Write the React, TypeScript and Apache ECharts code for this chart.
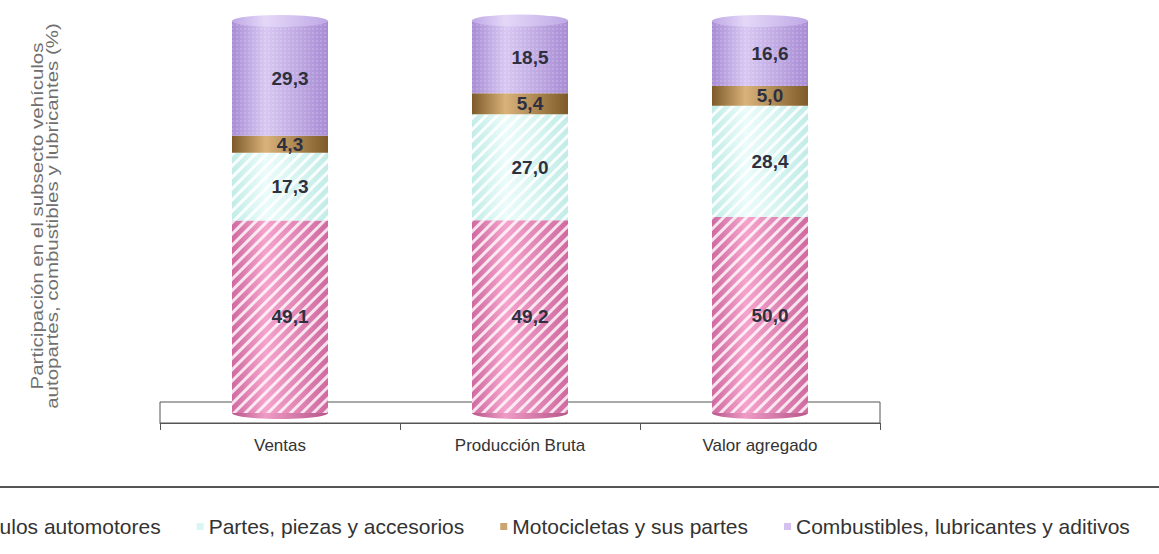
import React, { useEffect, useRef } from "react";
import * as echarts from "echarts";

const categories = ["Ventas", "Producción Bruta", "Valor agregado"];
const seriesNames = [
  "Vehículos automotores",
  "Partes, piezas y accesorios",
  "Motocicletas y sus partes",
  "Combustibles, lubricantes y aditivos",
];
const vehiculos = [49.1, 49.2, 50.0];
const partes = [17.3, 27.0, 28.4];
const motos = [4.3, 5.4, 5.0];
const combustibles = [29.3, 18.5, 16.6];
const yAxisTitle =
  "Participación en el subsecto vehículos\nautopartes, combustibles y lubricantes (%)";

const grad = (edge: string, mid: string) =>
  new echarts.graphic.LinearGradient(0, 0, 1, 0, [
    { offset: 0, color: edge },
    { offset: 0.35, color: mid },
    { offset: 1, color: edge },
  ]);

export default function App() {
  const ref = useRef<HTMLDivElement>(null);
  useEffect(() => {
    if (!ref.current) return;
    const chart = echarts.init(ref.current, null, { renderer: "svg" });
    const totals = categories.map(
      (_, i) => vehiculos[i] + partes[i] + motos[i] + combustibles[i]
    );
    const stripe = (alpha: number) => ({
      symbol: "rect",
      symbolSize: 1,
      dashArrayX: [1, 0],
      dashArrayY: [3, 5],
      rotation: -Math.PI / 4,
      color: `rgba(255,255,255,${alpha})`,
    });
    const label = {
      show: true,
      position: "inside",
      offset: [10, 0],
      fontSize: 19,
      fontWeight: "bold",
      fontFamily: "Liberation Sans, Arial, sans-serif",
      color: "#2e3040",
      formatter: (p: any) => Number(p.value).toFixed(1).replace(".", ","),
    };
    const mk = (name: string, data: number[], color: any, decal: any) => ({
      name,
      type: "bar",
      stack: "total",
      barWidth: 96,
      data,
      itemStyle: { color, decal },
      label,
      z: 3,
    });
    chart.setOption({
      animation: false,
      textStyle: { fontFamily: "Liberation Sans, Arial, sans-serif" },
      grid: { left: 160, right: 279, top: 21, bottom: 131 },
      xAxis: {
        type: "category",
        data: categories,
        axisLine: { onZero: false, lineStyle: { color: "#555", width: 1 } },
        axisTick: { show: true, length: 7, lineStyle: { color: "#555" } },
        axisLabel: { color: "#333", fontSize: 17, margin: 14 },
      },
      yAxis: {
        type: "value",
        min: -2.55,
        max: 100,
        axisLine: { show: false },
        axisTick: { show: false },
        axisLabel: { show: false },
        splitLine: { show: false },
      },
      legend: {
        data: seriesNames.map((n, i) => ({
          name: n,
          itemStyle: {
            color: ["#e67fb5", "#d8f6f3", "#caa56e", "#d3c2ef"][i],
            decal: "none",
          },
        })),
        left: -70,
        top: 511,
        icon: "rect",
        itemWidth: 7,
        itemHeight: 7,
        itemGap: 36,
        textStyle: { color: "#333", fontSize: 21 },
      },
      graphic: [
        {
          type: "rect",
          z: 0,
          shape: { x: 160, y: 402, width: 720, height: 21 },
          style: { fill: "#fff", stroke: "#555", lineWidth: 1 },
        },
        {
          type: "line",
          z: 0,
          shape: { x1: 0, y1: 487, x2: 1159, y2: 487 },
          style: { stroke: "#555", lineWidth: 2 },
        },
        {
          type: "text",
          x: 45,
          y: 216,
          rotation: Math.PI / 2,
          scaleX: 1.28,
          style: {
            text: yAxisTitle,
            fontSize: 16,
            lineHeight: 15,
            fill: "#707070",
            align: "center",
            verticalAlign: "middle",
            fontFamily: "Liberation Sans, Arial, sans-serif",
          },
        },
      ],
      series: [
        {
          name: "bottomCap",
          type: "pictorialBar",
          symbol: "circle",
          symbolSize: [96, 12],
          symbolPosition: "start",
          symbolOffset: [0, "50%"],
          data: totals,
          itemStyle: { color: grad("#b8558a", "#ee9cc6") },
          z: 2,
          silent: true,
        },
        mk(seriesNames[0], vehiculos, grad("#cf6aa0", "#f5a3cc"), stripe(0.8)),
        mk(seriesNames[1], partes, grad("#c2ece8", "#ebfcfa"), stripe(0.9)),
        mk(seriesNames[2], motos, grad("#7d5a28", "#d9b27a"), "none"),
        mk(
          seriesNames[3],
          combustibles,
          grad("#a88cd4", "#d8c8f2"),
          {
            symbol: "circle",
            symbolSize: 0.6,
            dashArrayX: [2, 2],
            dashArrayY: [2, 2],
            color: "rgba(255,255,255,0.45)",
          }
        ),
        {
          name: "topCap",
          type: "pictorialBar",
          symbol: "circle",
          symbolSize: [96, 12],
          symbolPosition: "end",
          symbolOffset: [0, "-50%"],
          data: totals,
          itemStyle: { color: grad("#bfa8e6", "#e4d8f8") },
          z: 4,
          silent: true,
        },
      ],
    });
    return () => chart.dispose();
  }, []);
  return (
    <div
      ref={ref}
      style={{ position: "absolute", left: 0, top: 0, width: 1159, height: 554 }}
    />
  );
}
